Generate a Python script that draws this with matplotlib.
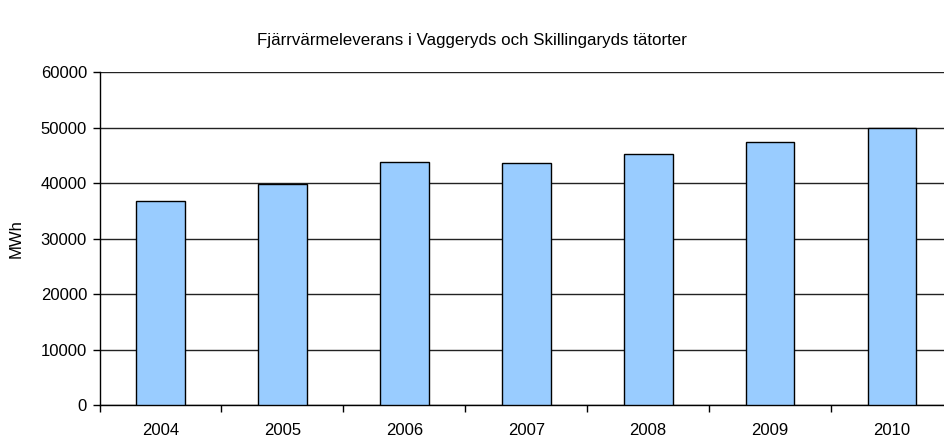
import matplotlib
matplotlib.use("Agg")
import matplotlib.pyplot as plt
from matplotlib.ticker import FixedLocator, NullFormatter

years = ["2004", "2005", "2006", "2007", "2008", "2009", "2010"]
values = [36900, 39900, 43800, 43600, 45200, 47400, 49900]
yticks = [0, 10000, 20000, 30000, 40000, 50000, 60000]
title = "Fjärrvärmeleverans i Vaggeryds och Skillingaryds tätorter"
ylabel = "MWh"

plt.rcParams['font.family'] = ['Liberation Sans', 'DejaVu Sans']

fig = plt.figure(figsize=(9.44, 4.38), dpi=100)
ax = fig.add_axes([99.5/944, 32.7/438, 853.5/944, 333/438])

x = list(range(len(years)))
ax.bar(x, values, width=0.4, color="#99CCFF", edgecolor="black", linewidth=1.0, zorder=3)

ax.set_xlim(-0.5, len(years) - 0.5)
ax.set_ylim(0, 60000)
ax.set_yticks(yticks)
ax.set_yticklabels([str(v) for v in yticks], fontsize=12)
ax.yaxis.grid(True, color="#222222", linewidth=1.0, zorder=0)
ax.set_axisbelow(True)

ax.xaxis.set_major_locator(FixedLocator([i - 0.5 for i in range(len(years) + 1)]))
ax.xaxis.set_major_formatter(NullFormatter())
ax.xaxis.set_minor_locator(FixedLocator(x))
ax.set_xticklabels(years, minor=True, fontsize=12)
ax.tick_params(axis='x', which='minor', length=0, pad=13)
ax.tick_params(axis='x', which='major', length=5, direction='out', width=1)
ax.tick_params(axis='y', length=5, direction='out', width=1, pad=4)

for s in ["top", "right"]:
    ax.spines[s].set_visible(False)
ax.spines["left"].set_linewidth(1.0)
ax.spines["bottom"].set_linewidth(1.0)

ax.set_ylabel(ylabel, fontsize=12, labelpad=12)
fig.text(0.5, 1 - 40/438, title, ha="center", va="center", fontsize=12.2)

fig.savefig("out.png", dpi=100)
